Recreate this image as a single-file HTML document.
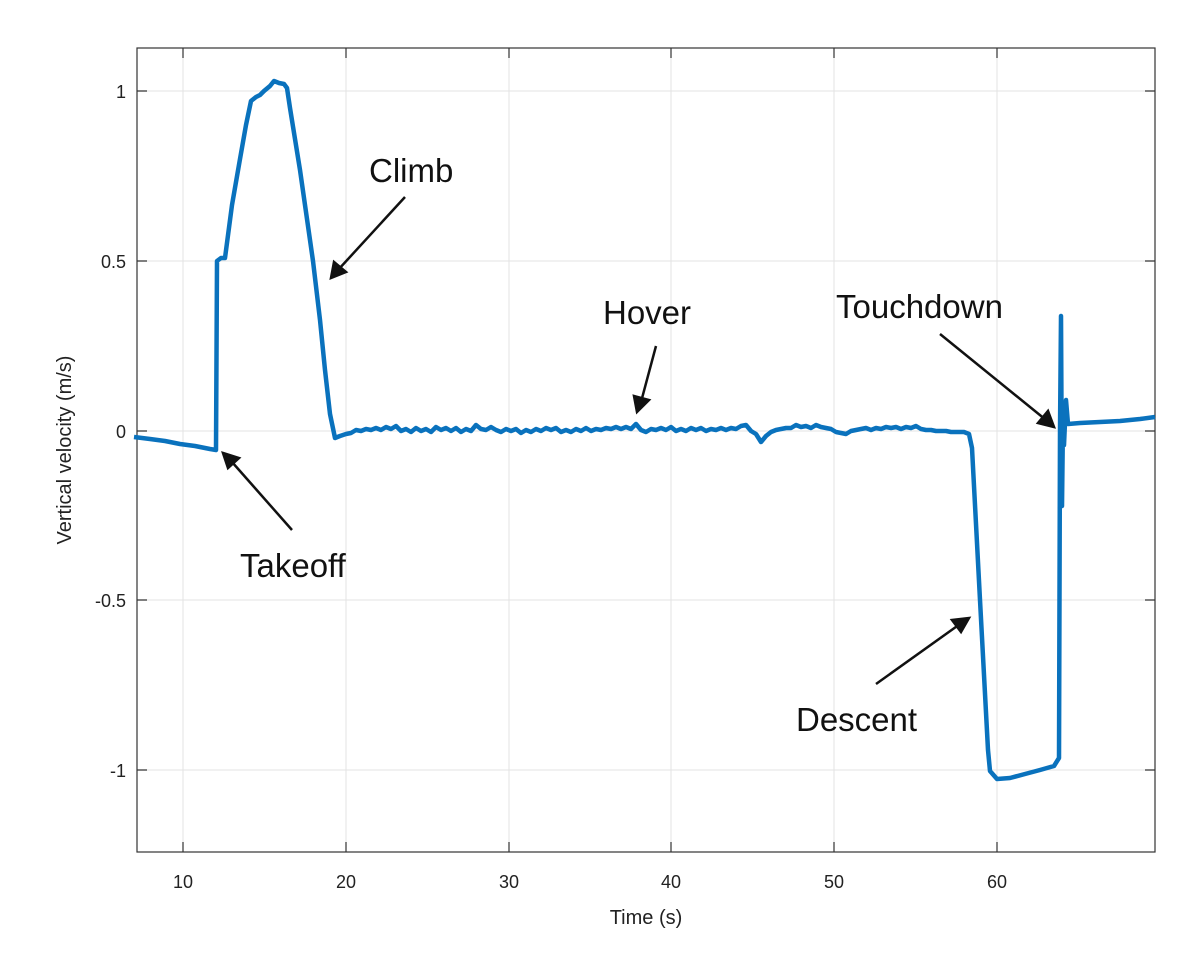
<!DOCTYPE html>
<html><head><meta charset="utf-8"><style>
html,body{margin:0;padding:0;background:#fff;}
svg{display:block;font-family:"Liberation Sans",Arial,sans-serif;}
</style></head><body>
<svg width="1200" height="962" viewBox="0 0 1200 962" xmlns="http://www.w3.org/2000/svg">
<rect width="1200" height="962" fill="#fff"/>
<g stroke="#e3e3e3" stroke-width="1">
<line x1="183" y1="48" x2="183" y2="852"/>
<line x1="346" y1="48" x2="346" y2="852"/>
<line x1="509" y1="48" x2="509" y2="852"/>
<line x1="671" y1="48" x2="671" y2="852"/>
<line x1="834" y1="48" x2="834" y2="852"/>
<line x1="997" y1="48" x2="997" y2="852"/>
<line x1="137" y1="91" x2="1155" y2="91"/>
<line x1="137" y1="261" x2="1155" y2="261"/>
<line x1="137" y1="431" x2="1155" y2="431"/>
<line x1="137" y1="600" x2="1155" y2="600"/>
<line x1="137" y1="770" x2="1155" y2="770"/>
</g>
<g stroke="#333" stroke-width="1.2">
<rect x="137" y="48" width="1018" height="804" fill="none"/>
<path d="M183 852v-10M346 852v-10M509 852v-10M671 852v-10M834 852v-10M997 852v-10M183 48v10M346 48v10M509 48v10M671 48v10M834 48v10M997 48v10M137 91h10M137 261h10M137 431h10M137 600h10M137 770h10M1155 91h-10M1155 261h-10M1155 431h-10M1155 600h-10M1155 770h-10"/>
</g>
<polyline fill="none" stroke="#0a72bd" stroke-width="4.5" stroke-linejoin="round" points="134,437 150,439 165,441 180,444 195,446 210,449 216,450 217,261 221,258 225,258 232,205 240,159 246,125 251,101 256,97 260,95 264,91 270,86 274,81 279,83 284,84 287,88 290,108 300,170 313,261 320,320 325,370 330,414 335,438 340,436 346,434 351,433 356,430 361,431 366,429 371,430 376,428 381,430 386,427 391,429 396,426 401,431 406,429 411,432 416,428 421,431 426,429 431,432 436,427 441,430 446,428 451,431 456,428 461,432 466,429 471,431 476,425 481,429 486,430 491,427 496,430 501,432 506,429 511,431 516,429 521,433 526,430 531,432 536,429 541,431 546,428 551,430 556,428 561,432 566,430 571,432 576,429 581,431 586,428 591,431 596,429 601,430 606,428 611,429 616,427 621,429 626,427 631,429 636,424 641,430 646,432 651,429 656,430 661,428 666,430 671,427 676,431 681,429 686,431 691,428 696,430 701,428 706,431 711,429 716,430 721,428 726,430 731,428 736,429 741,426 746,425 751,431 756,434 761,442 766,436 771,432 776,430 781,429 786,428 791,428 796,425 801,427 806,426 811,428 816,425 821,427 826,428 831,429 836,432 841,433 846,434 851,431 856,430 861,429 866,428 871,430 876,428 881,429 886,427 891,428 896,427 901,429 906,427 911,428 916,426 921,429 926,430 931,430 936,431 941,431 946,431 951,432 956,432 961,432 964,432 969,434 972,448 980,600 988,750 990,771 997,779 1010,778 1025,774 1040,770 1054,766 1059,758 1060,431 1061,316 1062,506 1063,420 1064,445 1066,400 1068,424 1080,423 1100,422 1120,421 1140,419 1155,417"/>
<g font-size="18" fill="#222" text-anchor="middle">
<text x="183" y="888">10</text><text x="346" y="888">20</text><text x="509" y="888">30</text>
<text x="671" y="888">40</text><text x="834" y="888">50</text><text x="997" y="888">60</text>
</g>
<g font-size="18" fill="#222" text-anchor="end">
<text x="126" y="98">1</text><text x="126" y="268">0.5</text><text x="126" y="438">0</text>
<text x="126" y="607">-0.5</text><text x="126" y="777">-1</text>
</g>
<text x="646" y="924" font-size="20" fill="#222" text-anchor="middle">Time (s)</text>
<text transform="translate(71,450) rotate(-90)" font-size="20" fill="#222" text-anchor="middle">Vertical velocity (m/s)</text>
<g font-size="33" fill="#111">
<text x="369" y="182">Climb</text>
<text x="603" y="324">Hover</text>
<text x="836" y="318">Touchdown</text>
<text x="240" y="577">Takeoff</text>
<text x="796" y="731">Descent</text>
</g>
<g stroke="#111" stroke-width="2.5" fill="#111">
<line x1="405" y1="197" x2="338" y2="270"/><polygon points="331,278 334,262 346,272"/>
<line x1="656" y1="346" x2="641" y2="402"/><polygon points="637,412 634,396 649,400"/>
<line x1="940" y1="334" x2="1046" y2="420"/><polygon points="1054,427 1038,423 1048,411"/>
<line x1="292" y1="530" x2="232" y2="462"/><polygon points="223,453 239,458 228,468"/>
<line x1="876" y1="684" x2="960" y2="624"/><polygon points="969,618 961,632 952,620"/>
</g>
</svg>
</body></html>
